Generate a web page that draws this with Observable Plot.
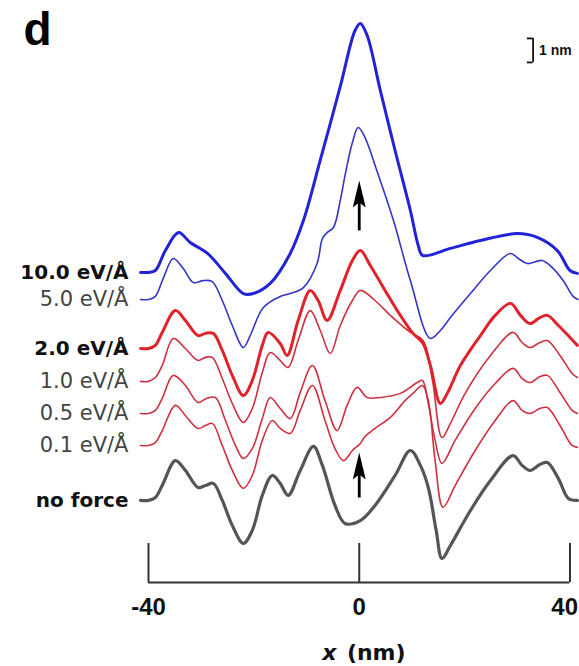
<!DOCTYPE html>
<html><head><meta charset="utf-8">
<script src="https://cdn.jsdelivr.net/npm/d3@7"></script>
<script src="https://cdn.jsdelivr.net/npm/@observablehq/plot@0.6"></script>
<style>body{margin:0;background:#fff} #chart svg{display:block}</style>
</head><body><div id="chart"></div>
<script>
// x in nm, y = stacked height in nm (1 nm scale bar)
const noForce = [[-41.5,3.42],[-40,3.42],[-38.7,3.54],[-37.4,4.04],[-34.9,5.08],[-33,4.67],[-30.6,3.96],[-29.2,4.04],[-27.7,4.13],[-26,3.42],[-24.1,2.38],[-22,1.63],[-20.3,2.17],[-18.4,3.63],[-16.5,4.46],[-15,4.13],[-13.5,3.63],[-11.2,4.67],[-8.7,5.67],[-7,4.88],[-4.6,3.21],[-2.7,2.46],[0.2,2.58],[3,3.21],[6.8,4.46],[9.7,5.5],[11.6,4.88],[13.1,3.96],[14.6,2.17],[15.7,1.0],[17.3,1.54],[21.1,3.0],[24.9,4.25],[29.2,5.29],[30.9,4.88],[32.4,4.67],[34.3,4.92],[35.7,5.0],[37.8,4.33],[39.7,3.5],[41.4,3.42]];
const force01 = [[-41.5,5.71],[-40,5.71],[-38.7,5.83],[-37.4,6.33],[-34.9,7.38],[-33,6.96],[-30.6,6.42],[-29.2,6.54],[-27.9,6.63],[-26,5.71],[-24.1,4.67],[-22,3.92],[-20.3,4.46],[-18.4,5.92],[-16.5,6.75],[-15,6.42],[-13.1,6.21],[-11.2,7.17],[-8.9,8.21],[-6.5,6.75],[-4.6,5.58],[-3,5.08],[-1.3,5.5],[0.2,5.79],[1.1,6.08],[3,6.42],[5.9,6.88],[8.7,7.58],[10.2,7.88],[12,8.21],[13.1,7.58],[14.4,5.08],[15.9,3.13],[18.2,4.04],[22,5.5],[25.8,6.75],[29.2,7.58],[30.9,7.17],[32.4,7.04],[34.3,7.25],[35.7,7.29],[38.1,6.54],[40.4,5.71],[41.4,5.63]];
const force05 = [[-41.5,7.04],[-40,7.04],[-38.7,7.17],[-37.4,7.67],[-35.3,8.63],[-33,8.21],[-30.6,7.5],[-29,7.67],[-27.3,7.71],[-25.4,6.75],[-23.5,5.71],[-22,5.17],[-20.3,5.58],[-18.4,6.83],[-16.9,7.71],[-15,7.25],[-13.1,6.83],[-11.2,7.92],[-8.9,9.04],[-6.5,7.58],[-4.2,6.33],[-2.3,7.38],[-0.4,8.13],[1.5,7.71],[4,7.71],[7.8,7.88],[11,8.33],[12,8.42],[13.1,7.46],[14.4,5.92],[15.7,4.96],[18.2,5.92],[22,7.25],[25.8,8.29],[29.2,8.92],[30.9,8.5],[32.4,8.33],[34.3,8.58],[35.7,8.63],[38.1,7.92],[40.4,7.17],[41.4,7.04]];
const force10 = [[-41.5,8.38],[-40,8.38],[-38.7,8.54],[-37.4,9.04],[-35.3,10.17],[-33,9.75],[-30.6,9.25],[-29.2,9.38],[-27.9,9.38],[-26,8.5],[-24.1,7.46],[-22,6.67],[-20.3,7.25],[-18.4,8.75],[-16.9,9.58],[-15,9.25],[-13.5,8.96],[-11.6,10.08],[-9.3,11.33],[-7.4,10.5],[-5.5,9.54],[-3.6,10.71],[-1.3,11.75],[0.2,12.17],[3,11.75],[5.9,11.13],[9.7,10.42],[12.1,10.08],[13.9,8.42],[15.7,6.04],[17.3,6.63],[20.1,7.88],[24.9,9.46],[29.2,10.42],[30.9,10],[32.4,9.79],[34.3,10],[35.7,10.08],[38.1,9.46],[40.4,8.71],[41.4,8.54]];
const force20 = [[-41.5,9.75],[-40,9.75],[-38.7,9.88],[-37.4,10.42],[-34.9,11.33],[-33,10.92],[-30.6,10.29],[-29.2,10.38],[-27.7,10.38],[-26,9.67],[-24.1,8.63],[-22,7.79],[-20.3,8.42],[-18.4,9.88],[-17.3,10.42],[-15,9.96],[-13.7,9.46],[-11.6,10.92],[-9.3,12.17],[-7.8,11.75],[-6.1,10.92],[-3.6,12.17],[-1.3,13.42],[0.2,13.83],[2.1,13.21],[4.9,12.17],[7.8,11.13],[10.2,10.38],[12.1,9.96],[13.5,9.04],[15.4,7.46],[16.7,7.88],[19.2,9.04],[23,10.29],[25.8,11.13],[28.7,11.63],[30.6,11.13],[32.4,10.79],[34.3,11.04],[35.7,11.13],[37.8,10.71],[40,10.21],[41.4,9.88]];
const force50 = [[-41.5,11.79],[-40,11.79],[-38.7,11.92],[-37.2,12.67],[-35.3,13.5],[-33.4,13.08],[-31.5,12.5],[-29.6,12.58],[-27.9,12.54],[-26,11.75],[-24.1,10.71],[-22,9.79],[-20.7,10.29],[-18.2,11.46],[-15,11.92],[-13.1,12.04],[-10.6,12.29],[-8,13.29],[-7,14.33],[-6.1,14.58],[-4.9,14.79],[-3.6,15.92],[-2.7,16.96],[-1.3,18.33],[-0.2,18.96],[1.1,18.54],[3,17.38],[6.5,15.08],[9.7,12.58],[13.5,10.17],[15.4,10.5],[17.3,11.04],[21.1,12.04],[24.9,13],[28.7,13.71],[30.2,13.5],[31.9,13.29],[34.7,13.42],[36.6,13.13],[38.7,12.58],[40.6,11.92],[41.5,11.79]];
const force100 = [[-41.5,12.92],[-40,12.92],[-38.7,13],[-36.8,13.83],[-34.3,14.58],[-32.1,14.17],[-28.8,13.71],[-25.4,12.88],[-22,12.04],[-20.1,12.04],[-16.9,12.46],[-13.1,13.71],[-10.6,15.08],[-7.4,17.6],[-3.6,20.67],[-0.8,23],[0.2,23.29],[1.5,22.79],[4,20.5],[6.8,18],[9.7,15.5],[11.2,14.04],[12,13.63],[17.3,13.92],[23,14.25],[30,14.54],[33.8,14.38],[37.6,13.83],[40,13],[41.4,12.88]];

const seriesLabels = ["10.0 eV/Å","5.0 eV/Å","2.0 eV/Å","1.0 eV/Å","0.5 eV/Å","0.1 eV/Å","no force"];
const boldLabels = ["10.0 eV/Å","2.0 eV/Å","no force"];
const xTicks = [-40, 0, 40];
const tickLength = 1.625;          // nm, upward ticks of the x bar
const scaleBar = {x: 33.0, y1: 21.67, y2: 22.67, label: "1 nm"};
const arrows = [{x: 0, tail: 14.67, head: 16.75}, {x: 0, tail: 3.54, head: 5.42}];

const series = [
  {name: "no force", data: noForce, color: "#555555", w: 3.2},
  {name: "0.1 eV/Å", data: force01, color: "#cf3040", w: 1.6},
  {name: "0.5 eV/Å", data: force05, color: "#cf3040", w: 1.6},
  {name: "1.0 eV/Å", data: force10, color: "#cf3040", w: 1.6},
  {name: "2.0 eV/Å", data: force20, color: "#e0232b", w: 3.0},
  {name: "5.0 eV/Å", data: force50, color: "#3535c8", w: 1.6},
  {name: "10.0 eV/Å", data: force100, color: "#2323d6", w: 3.0}
];
const labelRows = seriesLabels.map(n => {
  const s = series.find(d => d.name === n);
  return {name: n, x: s.data[1][0], y: s.data[1][1], bold: boldLabels.includes(n)};
});

const arrowHead = {draw(ctx) { ctx.moveTo(0, 0); ctx.lineTo(6.5, 27); ctx.lineTo(0, 22); ctx.lineTo(-6.5, 27); ctx.closePath(); }};
const tickFont = "Liberation Sans, Arial, sans-serif";

const marks = [];
for (const s of series) {
  marks.push(Plot.line(s.data, {x: d => d[0], y: d => d[1], stroke: s.color, strokeWidth: s.w, curve: "catmull-rom", strokeLinejoin: "round"}));
}
marks.push(
  Plot.ruleY([0], {x1: xTicks[0], x2: xTicks[2], stroke: "#333", strokeWidth: 2}),
  Plot.ruleX(xTicks, {y1: 0, y2: tickLength, stroke: "#333", strokeWidth: 2}),
  Plot.text(xTicks.slice(0, 2), {x: d => d, y: 0, dy: 25, text: d => String(d), fontSize: 24, fontWeight: "bold", fontFamily: tickFont, fill: "#111"}),
  Plot.text(xTicks.slice(2), {x: d => d, y: 0, dy: 25, dx: 8, textAnchor: "end", text: d => String(d), fontSize: 24, fontWeight: "bold", fontFamily: tickFont, fill: "#111"}),
  Plot.text(["x"], {x: 0, y: 0, dx: -30, dy: 70, text: d => d, fontSize: 22, fontWeight: "bold", fontStyle: "italic", fontFamily: "DejaVu Sans", fill: "#111"}),
  Plot.text(["(nm)"], {x: 0, y: 0, dx: 17, dy: 70, text: d => d, fontSize: 22, fontWeight: "bold", fontFamily: "DejaVu Sans", fill: "#111"}),
  Plot.text(labelRows.filter(d => d.bold), {x: "x", y: "y", text: "name", dx: -20, textAnchor: "end", fontSize: 20, fontWeight: "bold", fontFamily: "DejaVu Sans", fill: "#111"}),
  Plot.text(labelRows.filter(d => !d.bold), {x: "x", y: "y", text: "name", dx: -20, textAnchor: "end", fontSize: 21, fontFamily: "DejaVu Sans", fill: "#444"}),
  Plot.link(arrows, {x1: "x", x2: "x", y1: "tail", y2: d => d.head - 0.6, stroke: "black", strokeWidth: 2.8}),
  Plot.dot(arrows, {x: "x", y: "head", symbol: arrowHead, fill: "black", stroke: "none"}),
  Plot.ruleX([scaleBar], {x: "x", y1: "y1", y2: "y2", stroke: "#111", strokeWidth: 1.8}),
  Plot.ruleY([scaleBar.y1, scaleBar.y2], {x1: scaleBar.x - 1.1, x2: scaleBar.x, stroke: "#111", strokeWidth: 1.8}),
  Plot.text([scaleBar], {x: "x", y: d => (d.y1 + d.y2) / 2, text: "label", dx: 6, textAnchor: "start", fontSize: 14, fontWeight: "bold", fontFamily: tickFont, fill: "#111"}),
  Plot.text(["d"], {frameAnchor: "top-left", dx: -125, dy: 12, text: d => d, fontSize: 46, fontWeight: "bold", fontFamily: tickFont, fill: "#000"})
);

const chart = Plot.plot({
  width: 579, height: 666,
  marginLeft: 148, marginRight: 9.5, marginTop: 0, marginBottom: 84,
  x: {domain: [-40, 40], axis: null},
  y: {domain: [0, 24.25], axis: null},
  style: {background: "white", overflow: "visible", fontFamily: "DejaVu Sans"},
  marks
});
document.getElementById("chart").appendChild(chart);
</script>
</body></html>
